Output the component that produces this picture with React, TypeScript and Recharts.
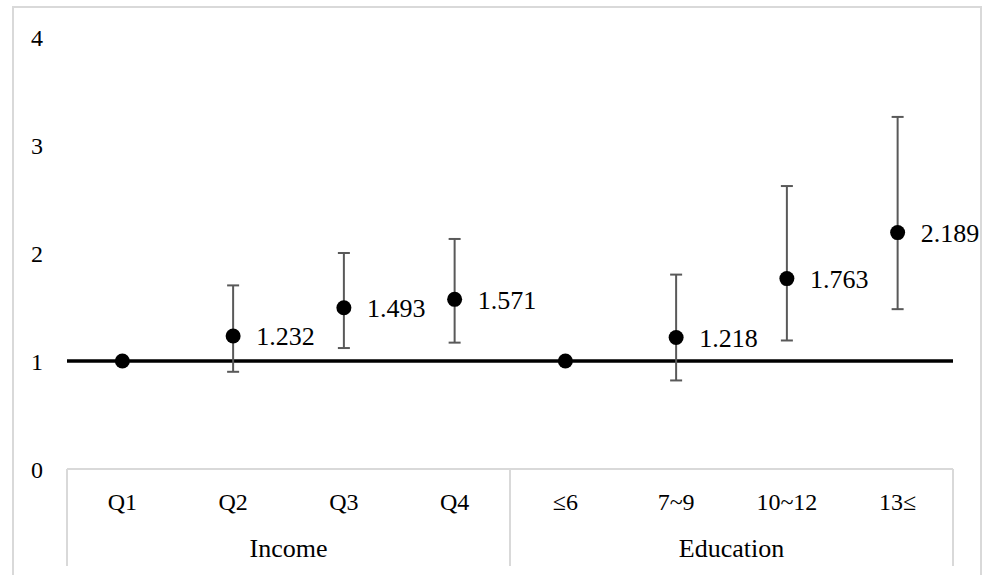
import React from 'react';
import { ComposedChart, Line, XAxis, YAxis, ErrorBar, LabelList, ReferenceLine } from 'recharts';

const categories = ['Q1', 'Q2', 'Q3', 'Q4', '≤6', '7~9', '10~12', '13≤'];
const groups = ['Income', 'Income', 'Income', 'Income', 'Education', 'Education', 'Education', 'Education'];
const estimates = [1, 1.232, 1.493, 1.571, 1, 1.218, 1.763, 2.189];
const lowerCI = [1, 0.9, 1.12, 1.17, 1, 0.82, 1.19, 1.48];
const upperCI = [1, 1.7, 2.0, 2.13, 1, 1.8, 2.62, 3.26];
const pointLabels = ['', '1.232', '1.493', '1.571', '', '1.218', '1.763', '2.189'];
const yTicks = [0, 1, 2, 3, 4];

const W = 983;
const H = 575;
const MARGIN = { top: 37, right: 30, bottom: 9, left: 0 };
const Y_AXIS_W = 67;
const X_AXIS_H = 97;
const FONT = "'Liberation Serif', 'Times New Roman', serif";

const data = categories.map((name, i) => ({
  name,
  group: groups[i],
  value: estimates[i],
  err: [estimates[i] - lowerCI[i], upperCI[i] - estimates[i]],
  label: pointLabels[i],
}));

const plotW = W - MARGIN.left - MARGIN.right - Y_AXIS_W;
const band = plotW / categories.length;

const CategoryTick = (props: any) => {
  const { x, y, payload } = props;
  const i = payload.index;
  const els: React.ReactNode[] = [];
  els.push(
    <text key="t" x={x} y={y + 33} textAnchor="middle" dominantBaseline="central"
      fontFamily={FONT} fontSize={24} fill="#000">{payload.value}</text>
  );
  const isGroupEnd = i === groups.length - 1 || groups[i] !== groups[i + 1];
  if (i === 0) {
    els.push(<line key="l" x1={x - band / 2} x2={x - band / 2} y1={y} y2={y + X_AXIS_H} stroke="#d9d9d9" strokeWidth={2} />);
  }
  if (isGroupEnd) {
    els.push(<line key="r" x1={x + band / 2} x2={x + band / 2} y1={y} y2={y + X_AXIS_H} stroke="#d9d9d9" strokeWidth={2} />);
  }
  const start = groups.indexOf(groups[i]);
  const end = groups.lastIndexOf(groups[i]);
  const mid = (start + end) / 2;
  if (i === Math.floor(mid)) {
    const gx = x + (mid - i) * band;
    els.push(
      <text key="g" x={gx} y={y + 79} textAnchor="middle" dominantBaseline="central"
        fontFamily={FONT} fontSize={26} fill="#000">{groups[i]}</text>
    );
  }
  return <g>{els}</g>;
};

const PointLabel = (props: any) => {
  const { x, y, value } = props;
  if (!value) return null;
  return (
    <text x={x + 23} y={y + 1} textAnchor="start" dominantBaseline="central"
      fontFamily={FONT} fontSize={26} fill="#000">{value}</text>
  );
};

export default function App() {
  return (
    <div style={{ position: 'absolute', left: 0, top: 0, width: W, height: H, background: '#fff', overflow: 'hidden' }}>
      <div style={{
        position: 'absolute', left: 12, top: 6, width: 970, height: 569, boxSizing: 'border-box',
        borderTop: '2px solid #d9d9d9', borderLeft: '2px solid #d9d9d9', borderRight: '2px solid #d9d9d9',
      }} />
      <div style={{ position: 'absolute', left: 0, top: 0 }}>
        <ComposedChart width={W} height={H} data={data} margin={MARGIN}>
          <XAxis dataKey="name" type="category" scale="band" height={X_AXIS_H} axisLine={{ stroke: '#d9d9d9', strokeWidth: 2 }}
            tickLine={false} tickSize={0} tickMargin={0} interval={0} tick={<CategoryTick />} />
          <YAxis type="number" domain={[0, 4]} ticks={yTicks} width={Y_AXIS_W} axisLine={false} tickLine={false}
            tickMargin={18} tick={{ fontFamily: FONT, fontSize: 24, fill: '#000' }} />
          <ReferenceLine y={1} stroke="#000" strokeWidth={3.5} />
          <Line dataKey="value" stroke="none" strokeWidth={0} isAnimationActive={false}
            dot={{ r: 7.5, fill: '#000', stroke: 'none' }} activeDot={false}>
            <ErrorBar dataKey="err" direction="y" width={6} stroke="#595959" strokeWidth={2} />
            <LabelList dataKey="label" content={<PointLabel />} />
          </Line>
        </ComposedChart>
      </div>
    </div>
  );
}
